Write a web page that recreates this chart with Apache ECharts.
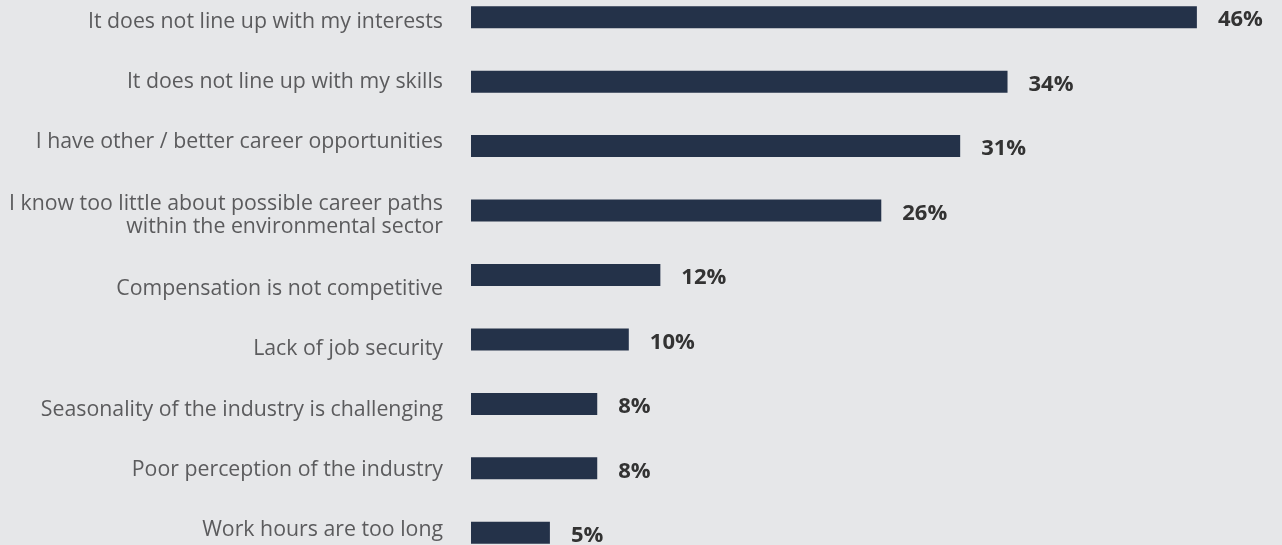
<!DOCTYPE html>
<html>
<head>
<meta charset="utf-8">
<script src="https://cdn.jsdelivr.net/npm/echarts@6/dist/echarts.min.js"></script>
<style>
  html, body { margin: 0; padding: 0; background: #e6e7e9; overflow: hidden; width: 1282px; height: 545px; }
  /* the plot runs slightly past the top and bottom edges of the page */
  #chart { width: 1282px; height: 580px; position: relative; top: -15px; }
</style>
</head>
<body>
<div id="chart"></div>
<script>
// Reasons for not pursuing a career in the environmental sector (share of respondents, %)
const categories = [
  'It does not line up with my interests',
  'It does not line up with my skills',
  'I have other / better career opportunities',
  'I know too little about possible career paths\nwithin the environmental sector',
  'Compensation is not competitive',
  'Lack of job security',
  'Seasonality of the industry is challenging',
  'Poor perception of the industry',
  'Work hours are too long'
];
const values = [46, 34, 31, 26, 12, 10, 8, 8, 5];

// the category labels sit in their own text column, nudged vertically (px) off the bar centres
const labelNudge = [4.6, 0, -4.3, 4.7, 13.5, 9.1, 6.3, 1.9, -2.5];
const LINE_H = 23;

// rich-text styles:
//  single-line labels: top padding pushes a label down, bottom padding lifts it
//  two-line labels: uneven line heights move both lines while keeping their spacing
const rich = { n: { lineHeight: LINE_H } };
labelNudge.forEach((s, i) => {
  const p = Math.round(Math.abs(s) * 2);
  rich['t' + i] = { lineHeight: LINE_H, padding: [p, 0, 0, 0] };
  rich['b' + i] = { lineHeight: LINE_H, padding: [0, 0, p, 0] };
  rich['f' + i] = { lineHeight: LINE_H + 2 * s };
  rich['g' + i] = { lineHeight: LINE_H - 2 * s };
});

function labelFormatter(value, index) {
  const lines = value.split('\n');
  const s = labelNudge[index] || 0;
  if (lines.length === 2) {
    return '{f' + index + '|' + lines[0] + '}\n{g' + index + '|' + lines[1] + '}';
  }
  let style = 'n';
  if (s > 0) style = 't' + index;
  else if (s < 0) style = 'b' + index;
  return '{' + style + '|' + value + '}';
}

const chart = echarts.init(document.getElementById('chart'), null, { renderer: 'canvas' });
chart.setOption({
  backgroundColor: '#e6e7e9',
  animation: false,
  grid: { left: 471, right: 22, top: 0, bottom: 0, containLabel: false },
  xAxis: {
    type: 'value', min: 0, max: 50, show: false
  },
  yAxis: {
    type: 'category',
    inverse: true,
    data: categories,
    axisLine: { show: false },
    axisTick: { show: false },
    axisLabel: {
      margin: 28,
      color: '#5b5b5d',
      fontFamily: 'Open Sans',
      fontSize: 21.3,
      lineHeight: LINE_H,
      align: 'right',
      formatter: labelFormatter,
      rich: rich
    }
  },
  series: [{
    type: 'bar',
    data: values,
    barWidth: 22,
    itemStyle: { color: '#243249' },
    label: {
      show: true,
      position: 'right',
      distance: 21,
      offset: [0, 3],
      formatter: '{c}%',
      color: '#333333',
      fontFamily: 'Open Sans',
      fontWeight: 'bold',
      fontSize: 22
    }
  }]
});
</script>
</body>
</html>
